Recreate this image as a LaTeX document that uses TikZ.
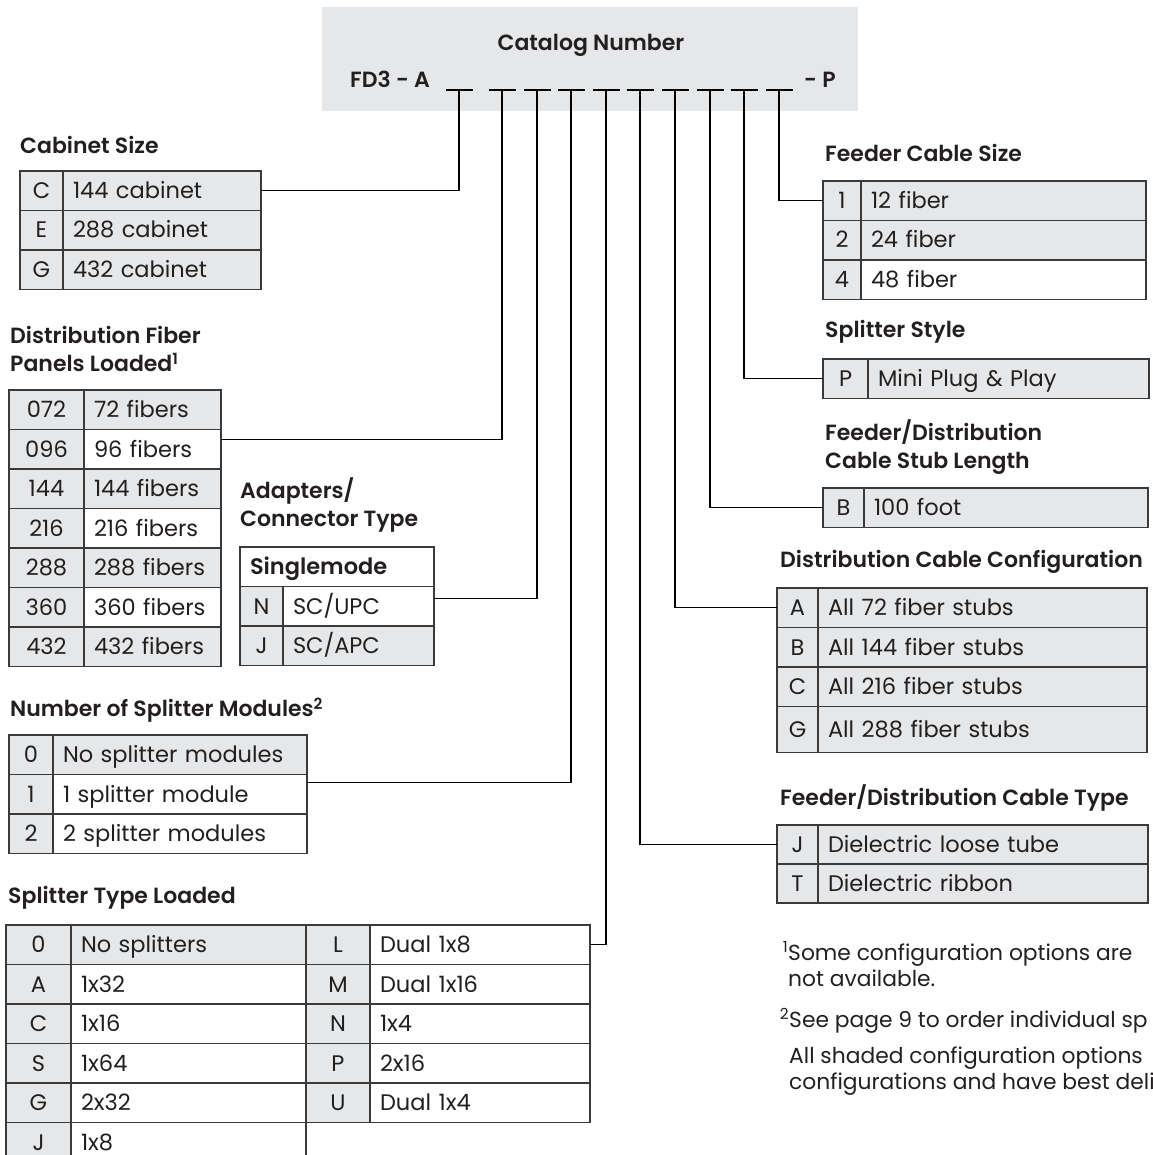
\documentclass[tikz,border=0pt]{standalone}
\usepackage{fontspec}
\setmainfont{Poppins}[BoldFont={Poppins SemiBold}]
\usetikzlibrary{positioning}
\definecolor{shade}{HTML}{E6E7E8}
\definecolor{rule}{HTML}{3A3A3A}
\definecolor{ink}{HTML}{231F20}
\newcommand{\bodysize}{\fontsize{22.5}{28}\selectfont}
\tikzset{
  code/.style={draw=rule, fill=shade, line width=1.2pt, minimum width=#1, minimum height=39.5pt,
    inner sep=0pt, outer sep=0pt, text height=15.5pt, text depth=0pt, font=\bodysize},
  desc/.style={draw=rule, fill=shade, line width=1.2pt, text width=#1, minimum height=39.5pt,
    inner xsep=10pt, inner ysep=0pt, outer sep=0pt, align=left, text height=15.5pt, text depth=0pt, font=\bodysize},
  open/.style={fill=white},
  head/.style={inner sep=0pt, align=left, font=\fontsize{22}{28}\selectfont\bfseries},
  note/.style={inner sep=0pt, anchor=base west, font=\fontsize{21.8}{26}\selectfont},
  link/.style={line width=1.2pt, black}
}

\begin{document}
\begin{tikzpicture}[x=1pt, y=-1pt, text=ink]
  \path[use as bounding box, clip] (0,0) rectangle (1152,1155);

  % catalog number
  \node [fill=shade, minimum width=536pt, minimum height=104pt, inner sep=0pt, anchor=north west] (box) at (322,7) {};
  \node [head] (cat) at (591,45) {Catalog Number};
  \node [head, anchor=base west] (pre) at (350,88) {FD3 - A};
  \node [head, anchor=base west] (suf) at (804,88) {- P};
  \foreach \i/\x in {1/459,2/502,3/537,4/571,5/606,6/640,7/675,8/710,9/744,10/779} {
    \coordinate (s\i) at (\x,90);
    \draw [link] ([xshift=-13.5pt]s\i) -- ([xshift=13.5pt]s\i);
  }

  % cabinet size
  \node [head, anchor=west] (cabT) at (20,145) {Cabinet Size};
  \node [code=43pt, anchor=north west] (cabC) at (20,171) {C};
  \node [desc=178pt, right=0pt of cabC] (cabCx) {144 cabinet};
  \node [code=43pt, below=0pt of cabC] (cabE) {E};
  \node [desc=178pt, right=0pt of cabE] (cabEx) {288 cabinet};
  \node [code=43pt, below=0pt of cabE] (cabG) {G};
  \node [desc=178pt, right=0pt of cabG] (cabGx) {432 cabinet};

  % distribution fiber panels
  \node [head, anchor=west] (dfpT) at (10,349) {Distribution Fiber\\Panels Loaded\textsuperscript{1}};
  \node [code=75pt, anchor=north west] (dfp072) at (9,390) {072};
  \node [desc=117pt, right=0pt of dfp072] (dfp072x) {72 fibers};
  \node [code=75pt, below=0pt of dfp072] (dfp096) {096};
  \node [desc=117pt, open, right=0pt of dfp096] (dfp096x) {96 fibers};
  \node [code=75pt, below=0pt of dfp096] (dfp144) {144};
  \node [desc=117pt, right=0pt of dfp144] (dfp144x) {144 fibers};
  \node [code=75pt, below=0pt of dfp144] (dfp216) {216};
  \node [desc=117pt, open, right=0pt of dfp216] (dfp216x) {216 fibers};
  \node [code=75pt, below=0pt of dfp216] (dfp288) {288};
  \node [desc=117pt, right=0pt of dfp288] (dfp288x) {288 fibers};
  \node [code=75pt, below=0pt of dfp288] (dfp360) {360};
  \node [desc=117pt, open, right=0pt of dfp360] (dfp360x) {360 fibers};
  \node [code=75pt, below=0pt of dfp360] (dfp432) {432};
  \node [desc=117pt, right=0pt of dfp432] (dfp432x) {432 fibers};

  % adapters
  \node [head, anchor=west] (adpT) at (240,505) {Adapters/\\Connector Type};
  \node [desc=174pt, open, font=\bodysize\bfseries, anchor=north west] (adpH) at (240,547) {Singlemode};
  \node [code=43pt, anchor=north west] (adpN) at (adpH.south west) {N};
  \node [desc=131pt, open, right=0pt of adpN] (adpNx) {SC/UPC};
  \node [code=43pt, below=0pt of adpN] (adpJ) {J};
  \node [desc=131pt, right=0pt of adpJ] (adpJx) {SC/APC};

  % number of splitter modules
  \node [head, anchor=west] (nsmT) at (10,710) {Number of Splitter Modules\textsuperscript{2}};
  \node [code=44pt, anchor=north west] (nsm0) at (9,735) {0};
  \node [desc=234pt, right=0pt of nsm0] (nsm0x) {No splitter modules};
  \node [code=44pt, below=0pt of nsm0] (nsm1) {1};
  \node [desc=234pt, open, right=0pt of nsm1] (nsm1x) {1 splitter module};
  \node [code=44pt, below=0pt of nsm1] (nsm2) {2};
  \node [desc=234pt, open, right=0pt of nsm2] (nsm2x) {2 splitter modules};

  % splitter type loaded
  \node [head, anchor=west] (sptT) at (8,898) {Splitter Type Loaded};
  \node [code=65pt, anchor=north west] (spt0) at (6,925) {0};
  \node [desc=215pt, right=0pt of spt0] (spt0x) {No splitters};
  \node [code=64pt, right=0pt of spt0x] (sptL) {L};
  \node [desc=200pt, open, right=0pt of sptL] (sptLx) {Dual 1x8};
  \node [code=65pt, below=0pt of spt0] (sptA) {A};
  \node [desc=215pt, open, right=0pt of sptA] (sptAx) {1x32};
  \node [code=64pt, right=0pt of sptAx] (sptM) {M};
  \node [desc=200pt, open, right=0pt of sptM] (sptMx) {Dual 1x16};
  \node [code=65pt, below=0pt of sptA] (sptC) {C};
  \node [desc=215pt, open, right=0pt of sptC] (sptCx) {1x16};
  \node [code=64pt, right=0pt of sptCx] (sptN) {N};
  \node [desc=200pt, open, right=0pt of sptN] (sptNx) {1x4};
  \node [code=65pt, below=0pt of sptC] (sptS) {S};
  \node [desc=215pt, open, right=0pt of sptS] (sptSx) {1x64};
  \node [code=64pt, right=0pt of sptSx] (sptP) {P};
  \node [desc=200pt, open, right=0pt of sptP] (sptPx) {2x16};
  \node [code=65pt, below=0pt of sptS] (sptG) {G};
  \node [desc=215pt, open, right=0pt of sptG] (sptGx) {2x32};
  \node [code=64pt, right=0pt of sptGx] (sptU) {U};
  \node [desc=200pt, open, right=0pt of sptU] (sptUx) {Dual 1x4};
  \node [code=65pt, below=0pt of sptG] (sptJ) {J};
  \node [desc=215pt, open, right=0pt of sptJ] (sptJx) {1x8};

  % feeder cable size
  \node [head, anchor=west] (fcsT) at (825,153) {Feeder Cable Size};
  \node [code=38pt, anchor=north west] (fcs1) at (823,181) {1};
  \node [desc=265pt, right=0pt of fcs1] (fcs1x) {12 fiber};
  \node [code=38pt, below=0pt of fcs1] (fcs2) {2};
  \node [desc=265pt, right=0pt of fcs2] (fcs2x) {24 fiber};
  \node [code=38pt, below=0pt of fcs2] (fcs4) {4};
  \node [desc=265pt, open, right=0pt of fcs4] (fcs4x) {48 fiber};

  % splitter style
  \node [head, anchor=west] (sstT) at (825,332) {Splitter Style};
  \node [code=45pt, anchor=north west] (sstP) at (823,359) {P};
  \node [desc=261pt, right=0pt of sstP] (sstPx) {Mini Plug \& Play};

  % stub length
  \node [head, anchor=west] (stbT) at (825,447) {Feeder/Distribution\\Cable Stub Length};
  \node [code=41pt, anchor=north west] (stbB) at (823,488) {B};
  \node [desc=264pt, right=0pt of stbB] (stbBx) {100 foot};

  % distribution cable configuration
  \node [head, anchor=west] (dccT) at (780,562) {Distribution Cable Configuration};
  \node [code=41pt, anchor=north west] (dccA) at (777,588) {A};
  \node [desc=309pt, right=0pt of dccA] (dccAx) {All 72 fiber stubs};
  \node [code=41pt, below=0pt of dccA] (dccB) {B};
  \node [desc=309pt, right=0pt of dccB] (dccBx) {All 144 fiber stubs};
  \node [code=41pt, below=0pt of dccB] (dccC) {C};
  \node [desc=309pt, right=0pt of dccC] (dccCx) {All 216 fiber stubs};
  \node [code=41pt, minimum height=46pt, below=0pt of dccC] (dccG) {G};
  \node [desc=309pt, minimum height=46pt, right=0pt of dccG] (dccGx) {All 288 fiber stubs};

  % feeder/distribution cable type
  \node [head, anchor=west] (dctT) at (780,798) {Feeder/Distribution Cable Type};
  \node [code=41pt, minimum height=39pt, anchor=north west] (dctJ) at (777,825) {J};
  \node [desc=310pt, minimum height=39pt, right=0pt of dctJ] (dctJx) {Dielectric loose tube};
  \node [code=41pt, minimum height=39pt, below=0pt of dctJ] (dctT) {T};
  \node [desc=310pt, minimum height=39pt, right=0pt of dctT] (dctTx) {Dielectric ribbon};

  % connectors
  \draw [link] (cabCx.east) -| (s1);
  \draw [link] ([yshift=10pt]dfp096x.east) -| (s2);
  \draw [link] ([yshift=8pt]adpNx.east) -| (s3);
  \draw [link] ([yshift=12pt]nsm1x.east) -| (s4);
  \draw [link] (sptLx.east) -| (s5);
  \draw [link] (dctJ.west) -| (s6);
  \draw [link] (dccA.west) -| (s7);
  \draw [link] (stbB.west) -| (s8);
  \draw [link] (sstP.west) -| (s9);
  \draw [link] (fcs1.west) -| (s10);

  % notes
  \node [note] (n1a) at (788,960) {\llap{\textsuperscript{1}}Some configuration options are};
  \node [note] (n1b) at (788,986) {not available.};
  \node [note] (n2a) at (789,1027) {\llap{\textsuperscript{2}}See page 9 to order individual sp};
  \node [note] (n3a) at (789,1063) {All shaded configuration options};
  \node [note] (n3b) at (789,1089) {configurations and have best deli};
\end{tikzpicture}
\end{document}
